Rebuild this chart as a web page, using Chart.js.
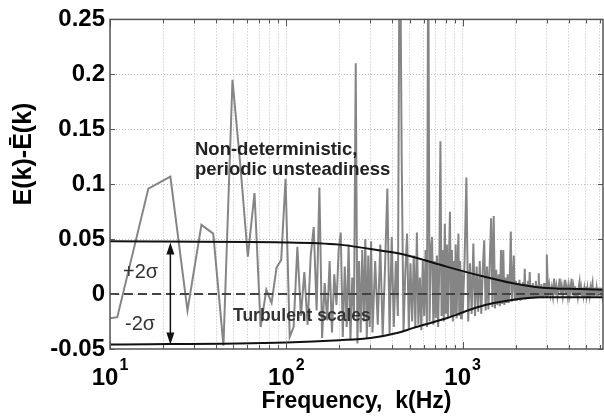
<!DOCTYPE html>
<html>
<head>
<meta charset="utf-8">
<script src="https://cdn.jsdelivr.net/npm/chart.js@4.4.1/dist/chart.umd.min.js"></script>
<style>
  html, body { margin: 0; padding: 0; background: #fff; }
</style>
</head>
<body>
<canvas id="spec" width="604" height="416"></canvas>
<script>
/* Spectrum deviation E(k) - mean E(k) vs frequency, with +/-2 sigma band */

// low band (Hz / value)
const lowFreq = [10, 11, 16.5, 22, 27.5, 33, 38.5, 44, 49.5, 55, 60.5, 66, 71.5, 77, 82.5, 88, 93.5, 99, 104.5];
const lowVal = [-0.022, -0.021, 0.096, 0.107, -0.015, 0.063, 0.055, -0.047, 0.195, 0.115,
  0.034, 0.092, -0.030, 0.004, -0.008, 0.024, 0.031, 0.105, -0.039];

// higher bands: first bin (Hz), bin spacing (Hz)
const bandB = { start: 110, step: 5.5 };
const bandBVal = [-0.030, 0.043, -0.020, 0.020, -0.028, 0.035, 0.061, -0.015, 0.097, -0.040,
  0.010, -0.024, 0.030, -0.035, 0.018, -0.010, 0.040, 0.056, -0.039, 0.025,
  -0.030, 0.045, -0.042, 0.015, -0.020, 0.210, -0.045, 0.030, -0.035, 0.040,
  -0.025, 0.050, -0.040, 0.035, -0.030, 0.048];

const bandC = { start: 308, step: 11 };
const bandCVal = [-0.035, 0.030, -0.028, 0.045, -0.038, 0.025, 0.096, -0.036, 0.052, -0.030,
  0.030, -0.020, 0.380, 0.123, -0.034, 0.020, 0.055, -0.032, 0.028, -0.025,
  0.035, -0.030, 0.056, -0.028, 0.015, -0.033, 0.030, -0.020, 0.040, -0.030,
  0.330, -0.025, 0.040, 0.052, -0.028, 0.030, -0.022, 0.035, -0.030, 0.025,
  0.139, -0.020, 0.040, -0.025, 0.064, -0.018, 0.045, -0.022, 0.030, 0.075,
  -0.020, 0.040, -0.025, 0.030, -0.018, 0.045, -0.022, 0.025, 0.055, -0.020,
  0.030, -0.022, 0.020, -0.018];

const bandD = { start: 1025, step: 25 };
const bandDVal = [0.030, 0.106, -0.025, 0.028, -0.018, 0.046, -0.020, 0.025, -0.016, 0.030,
  -0.018, 0.022, 0.049, -0.015, 0.025, -0.014, 0.030, 0.069, -0.012, 0.071,
  -0.013, 0.022, -0.010, 0.018, -0.011, 0.040, -0.009, 0.040, -0.010, 0.015,
  -0.008, 0.018, -0.008, 0.014, 0.057, -0.007, 0.012, 0.035, -0.006, 0.012,
  -0.006, 0.010, -0.005, 0.013, -0.006, 0.009, -0.005, 0.011, -0.004, 0.023,
  -0.005, 0.009, -0.004, 0.012, -0.004, 0.020, -0.004, 0.008, -0.003, 0.010,
  -0.004, 0.007, -0.003, 0.012, -0.003, 0.008, -0.003, 0.019, -0.003, 0.007,
  -0.002, 0.009, -0.003, 0.006, -0.002, 0.010, -0.002, 0.006, -0.002, 0.036];

const bandE = { start: 3050, step: 50 };
const bandEVal = [-0.002, 0.008, -0.001, 0.006, -0.002, 0.014, -0.001, 0.007, -0.002, 0.006,
  0.014, -0.001, 0.007, -0.002, 0.006, 0.013, -0.001, 0.006, -0.002, 0.007,
  -0.001, 0.006, 0.014, -0.001, 0.006, -0.002, 0.007, -0.001, 0.005, -0.002,
  0.006, 0.011, -0.001, 0.005, -0.002, 0.006, -0.001, 0.005, -0.001, 0.007,
  -0.001, 0.005, -0.002, 0.006, -0.001, 0.005, -0.001, 0.006, 0.010, -0.001,
  0.005, -0.002, 0.006, -0.001, 0.005, -0.001, 0.006, -0.001, 0.005, -0.001,
  0.006, -0.001, 0.005, -0.001, 0.004];

// +/- 2 sigma envelope
const envFreq = [10, 100, 200, 300, 436, 520, 810, 1240, 1900, 2740, 4630, 6250];
const envUpper = [0.048, 0.047, 0.045, 0.041, 0.037, 0.034, 0.025, 0.017, 0.010, 0.006, 0.0045, 0.004];
const envLower = [-0.046, -0.044, -0.042, -0.040, -0.035, -0.031, -0.022, -0.0115, -0.0055, -0.003, -0.003, -0.003];

const xGridTicks = [10, 20, 30, 40, 50, 60, 70, 80, 90,
  100, 200, 300, 400, 500, 600, 700, 800, 900,
  1000, 2000, 3000, 4000, 5000, 6000];
const decadeTicks = [10, 100, 1000];
const yTicks = [-0.05, 0, 0.05, 0.1, 0.15, 0.2, 0.25];

const X_MIN = 10, X_MAX = 6250;
const FONT = '"Liberation Sans", Arial, Helvetica, sans-serif';

function bandPoints(band, vals) {
  return vals.map((v, i) => ({ x: band.start + i * band.step, y: v }));
}

const signal = lowFreq.map((f, i) => ({ x: f, y: lowVal[i] }))
  .concat(bandPoints(bandB, bandBVal))
  .concat(bandPoints(bandC, bandCVal))
  .concat(bandPoints(bandD, bandDVal))
  .concat(bandPoints(bandE, bandEVal));

const upper = envFreq.map((f, i) => ({ x: f, y: envUpper[i] }));
const lower = envFreq.map((f, i) => ({ x: f, y: envLower[i] }));

// annotations, axis titles, inward ticks and box
const decor = {
  id: 'decor',
  afterDraw(chart) {
    const { ctx, chartArea: a, scales: { x, y } } = chart;
    ctx.save();

    // inward tick marks
    ctx.strokeStyle = '#555';
    ctx.lineWidth = 1;
    ctx.beginPath();
    xGridTicks.forEach(v => {
      const px = Math.round(x.getPixelForValue(v)) + 0.5;
      const len = decadeTicks.includes(v) ? 7 : 4;
      ctx.moveTo(px, a.bottom); ctx.lineTo(px, a.bottom - len);
      ctx.moveTo(px, a.top); ctx.lineTo(px, a.top + len);
    });
    yTicks.forEach(v => {
      const py = Math.round(y.getPixelForValue(v)) + 0.5;
      ctx.moveTo(a.left, py); ctx.lineTo(a.left + 5, py);
      ctx.moveTo(a.right, py); ctx.lineTo(a.right - 5, py);
    });
    ctx.stroke();

    // box
    ctx.strokeStyle = '#555';
    ctx.lineWidth = 1.5;
    ctx.strokeRect(a.left, a.top, a.right - a.left, a.bottom - a.top);

    // decade labels 10^n
    ctx.fillStyle = '#000';
    ctx.textBaseline = 'alphabetic';
    ctx.textAlign = 'left';
    decadeTicks.forEach(v => {
      const px = x.getPixelForValue(v);
      const exp = String(Math.round(Math.log10(v)));
      ctx.font = 'bold 24px ' + FONT;
      const wb = ctx.measureText('10').width;
      ctx.font = 'bold 16px ' + FONT;
      const we = ctx.measureText(exp).width;
      const x0 = px - (wb + 1 + we) / 2;
      ctx.font = 'bold 24px ' + FONT;
      ctx.fillText('10', x0, 385);
      ctx.font = 'bold 16px ' + FONT;
      ctx.fillText(exp, x0 + wb + 1, 370);
    });

    // x title
    ctx.font = 'bold 23px ' + FONT;
    ctx.textAlign = 'center';
    ctx.fillText('Frequency,  k(Hz)', (a.left + a.right) / 2, 408);

    // y title
    ctx.save();
    ctx.translate(31, 154);
    ctx.rotate(-Math.PI / 2);
    ctx.font = 'bold 25px ' + FONT;
    ctx.textAlign = 'center';
    ctx.fillText('E(k)-Ē(k)', 0, 0);
    ctx.restore();

    // annotations
    ctx.textAlign = 'left';
    ctx.fillStyle = '#222';
    ctx.font = 'bold 18.5px ' + FONT;
    ctx.fillText('Non-deterministic,', 195, 155);
    ctx.fillText('periodic unsteadiness', 195, 175);
    ctx.fillStyle = '#333';
    ctx.font = 'bold 17.5px ' + FONT;
    ctx.fillText('Turbulent scales', 233, 321);
    ctx.font = '20px ' + FONT;
    ctx.fillText('+2σ', 123, 278);
    ctx.fillText('-2σ', 125, 330);

    // double arrow between the envelopes
    const ax = x.getPixelForValue(22);
    const yTop = y.getPixelForValue(0.047);
    const yBot = y.getPixelForValue(-0.046);
    ctx.strokeStyle = '#111';
    ctx.fillStyle = '#111';
    ctx.lineWidth = 1.5;
    ctx.beginPath();
    ctx.moveTo(ax, yTop + 10); ctx.lineTo(ax, yBot - 10);
    ctx.stroke();
    ctx.beginPath();
    ctx.moveTo(ax, yTop); ctx.lineTo(ax - 4, yTop + 12); ctx.lineTo(ax + 4, yTop + 12); ctx.closePath();
    ctx.moveTo(ax, yBot); ctx.lineTo(ax - 4, yBot - 12); ctx.lineTo(ax + 4, yBot - 12); ctx.closePath();
    ctx.fill();

    ctx.restore();
  }
};

new Chart(document.getElementById('spec'), {
  type: 'line',
  data: {
    datasets: [
      { data: upper, borderColor: '#111', borderWidth: 2, cubicInterpolationMode: 'monotone' },
      { data: lower, borderColor: '#111', borderWidth: 2, cubicInterpolationMode: 'monotone' },
      { data: [{ x: X_MIN, y: 0 }, { x: X_MAX, y: 0 }], borderColor: '#444', borderWidth: 2, borderDash: [9, 5] },
      { data: signal, borderColor: '#858585', borderWidth: 2 }
    ]
  },
  options: {
    responsive: false,
    animation: false,
    layout: { padding: { top: 18, right: 1, left: 0, bottom: 0 } },
    elements: { point: { radius: 0 }, line: { tension: 0 } },
    plugins: { legend: { display: false }, tooltip: { enabled: false } },
    scales: {
      x: {
        type: 'logarithmic',
        min: X_MIN,
        max: X_MAX,
        afterBuildTicks: s => { s.ticks = xGridTicks.map(v => ({ value: v })); },
        afterFit: s => { s.height = 67; },
        ticks: { display: false, autoSkip: false },
        border: { display: false, dash: [1, 2] },
        grid: { color: '#bdbdbd', drawTicks: false, lineWidth: 1 }
      },
      y: {
        min: -0.05,
        max: 0.25,
        afterBuildTicks: s => { s.ticks = yTicks.map(v => ({ value: v })); },
        afterFit: s => { s.width = 110; },
        ticks: {
          padding: 5,
          color: '#000',
          font: { family: FONT, size: 24, weight: 'bold' },
          callback: v => String(+v.toFixed(2))
        },
        border: { display: false, dash: [1, 2] },
        grid: {
          color: c => (c.tick && (c.tick.value === 0.25 || c.tick.value === -0.05)) ? 'rgba(0,0,0,0)' : '#bdbdbd',
          drawTicks: false, lineWidth: 1
        }
      }
    }
  },
  plugins: [decor]
});
</script>
</body>
</html>
